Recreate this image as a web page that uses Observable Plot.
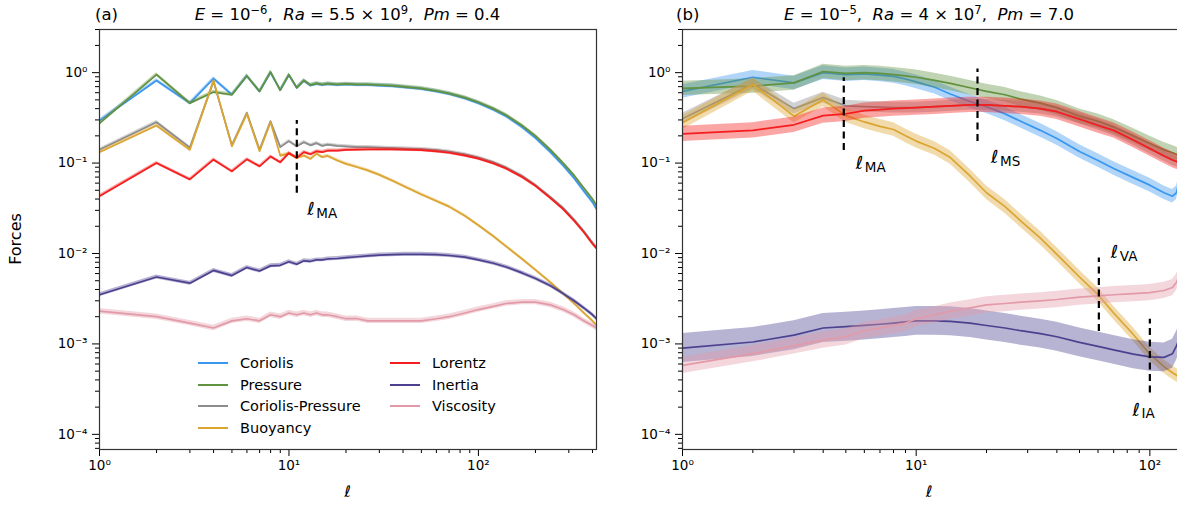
<!DOCTYPE html>
<html><head><meta charset="utf-8">
<script src="https://cdn.jsdelivr.net/npm/d3@7"></script>
<script src="https://cdn.jsdelivr.net/npm/@observablehq/plot@0.6"></script>
<style>
body{margin:0;background:#fff;font-family:"DejaVu Sans",sans-serif;}
#wrap{position:relative;width:1177px;height:514px;overflow:hidden;background:#fff}
.abs{position:absolute;white-space:nowrap;color:#000;line-height:1}
#pa{width:640px;height:514px}
#pb{width:560px;height:514px}
#pa svg,#pb svg{max-width:none !important}
.ttl{font-size:16.5px}
.ttl sup{font-size:0.7em;vertical-align:0;position:relative;top:-0.55em}
.leg{font-size:14.5px;line-height:18px;height:18px}
.leg span.sw{display:inline-block;width:30px;height:0;border-top:2px solid;vertical-align:middle;margin-right:12px;position:relative;top:-1px}
</style></head><body>
<div id="wrap">
 <div id="pa" class="abs" style="left:0;top:0"></div>
 <div id="pb" class="abs" style="left:640px;top:0"></div>
 <div class="abs ttl" style="left:95px;top:7px">(a)</div>
 <div class="abs ttl" style="left:347.5px;top:7px;transform:translateX(-50%)"><i>E</i> = 10<sup>−6</sup>,&nbsp; <i>Ra</i> = 5.5 × 10<sup>9</sup>,&nbsp; <i>Pm</i> = 0.4</div>
 <div class="abs ttl" style="left:676px;top:7px">(b)</div>
 <div class="abs ttl" style="left:929px;top:7px;transform:translateX(-50%)"><i>E</i> = 10<sup>−5</sup>,&nbsp; <i>Ra</i> = 4 × 10<sup>7</sup>,&nbsp; <i>Pm</i> = 7.0</div>
 <div class="abs" style="left:16px;top:239px;font-size:16px;transform:translate(-50%,-50%) rotate(-90deg)">Forces</div>
 <div class="abs" style="left:347.5px;top:492px;font-size:16px;transform:translate(-50%,-50%)">ℓ</div>
 <div class="abs" style="left:929px;top:492px;font-size:16px;transform:translate(-50%,-50%)">ℓ</div>
 <div id="legend"></div>
</div>
<script>
// ---------- data ----------
const series = ["Coriolis", "Pressure", "Coriolis-Pressure", "Buoyancy", "Lorentz", "Inertia", "Viscosity"];
const colors = ["#3a97ef", "#61923f", "#8c8c8c", "#dba530", "#f51d1d", "#4c418f", "#e29aa8"];

// Panel (a): E=1e-6, Ra=5.5e9, Pm=0.4
const lA = [1,2,3,4,5,6,7,8,9,10,11,12,13,14,15,16,18,20,23,26,30,35,40,50,60,70,85,100,120,140,170,200,240,280,320,360,400,420];
const coriolisA = [0.295,0.82,0.46,0.86,0.57,0.92,0.62,1.0,0.64,0.94,0.68,0.81,0.72,0.75,0.73,0.745,0.73,0.74,0.73,0.73,0.72,0.71,0.69,0.66,0.62,0.58,0.52,0.46,0.39,0.33,0.25,0.19,0.132,0.094,0.068,0.049,0.037,0.031];
const pressureA = [0.275,0.95,0.46,0.61,0.57,0.92,0.62,1.02,0.64,0.95,0.68,0.82,0.73,0.76,0.74,0.755,0.74,0.75,0.74,0.74,0.73,0.72,0.70,0.67,0.63,0.59,0.53,0.47,0.40,0.34,0.26,0.20,0.14,0.10,0.073,0.053,0.040,0.034];
const corPresA = [0.14,0.283,0.148,0.8,0.157,0.36,0.14,0.29,0.15,0.175,0.153,0.17,0.157,0.166,0.155,0.16,0.155,0.153,0.15,0.15,0.148,0.146,0.145,0.143,0.139,0.134,0.125,0.115,0.102,0.089,0.072,0.057,0.042,0.032,0.0237,0.0177,0.0132,0.0117];
const buoyancyA = [0.132,0.26,0.14,0.82,0.153,0.35,0.135,0.283,0.121,0.127,0.114,0.121,0.111,0.127,0.116,0.12,0.107,0.098,0.09,0.083,0.074,0.064,0.056,0.045,0.038,0.033,0.026,0.0205,0.0155,0.012,0.0087,0.0066,0.0048,0.0036,0.0028,0.0022,0.0018,0.0016];
const lorentzA = [0.043,0.1,0.066,0.109,0.081,0.11,0.092,0.118,0.102,0.129,0.114,0.132,0.125,0.135,0.132,0.137,0.137,0.14,0.141,0.142,0.142,0.142,0.141,0.139,0.135,0.13,0.121,0.112,0.099,0.087,0.07,0.056,0.041,0.031,0.023,0.0172,0.0128,0.0114];
const inertiaA = [0.0035,0.0055,0.0047,0.0065,0.0057,0.007,0.0064,0.0073,0.0074,0.0081,0.0076,0.0083,0.0082,0.0085,0.0085,0.0087,0.0088,0.009,0.0092,0.0094,0.0096,0.0097,0.0098,0.0098,0.0097,0.0095,0.0091,0.0085,0.0078,0.0071,0.0061,0.0053,0.0044,0.0036,0.003,0.0025,0.0021,0.0019];
const viscosityA = [0.0023,0.002,0.0017,0.0015,0.0018,0.0019,0.0018,0.0021,0.002,0.0022,0.0021,0.0022,0.0021,0.0022,0.0021,0.0021,0.002,0.0019,0.0019,0.0018,0.0018,0.0018,0.0018,0.0018,0.0019,0.002,0.0022,0.0024,0.0026,0.0028,0.0029,0.0029,0.0027,0.0024,0.0021,0.0018,0.0016,0.0015];
const spreadA = [0.02, 0.02, 0.018, 0.018, 0.018, 0.022, 0.03];   // band half-width, decades

// Panel (b): E=1e-5, Ra=4e7, Pm=7.0
const lB = [1,2,3,4,5,6,7,8,9,10,12,14,17,20,24,28,34,40,50,60,70,85,100,115,125,130,133];
const coriolisB = [0.62,0.89,0.77,1.0,0.95,0.97,0.94,0.91,0.85,0.79,0.69,0.58,0.48,0.42,0.35,0.29,0.23,0.187,0.134,0.107,0.087,0.069,0.057,0.047,0.043,0.047,0.06];
const pressureB = [0.67,0.71,0.77,1.03,0.98,1.0,0.98,0.95,0.92,0.89,0.82,0.76,0.68,0.62,0.57,0.51,0.46,0.41,0.33,0.29,0.25,0.2,0.165,0.14,0.13,0.125,0.12];
const corPresB = [0.31,0.75,0.4,0.53,0.43,0.42,0.415,0.41,0.41,0.41,0.42,0.43,0.44,0.44,0.43,0.42,0.4,0.37,0.31,0.265,0.23,0.18,0.145,0.12,0.108,0.104,0.102];
const buoyancyB = [0.28,0.74,0.33,0.5,0.335,0.285,0.255,0.235,0.2,0.175,0.145,0.115,0.072,0.047,0.033,0.023,0.0148,0.0098,0.0055,0.0035,0.0022,0.00127,0.00077,0.00056,0.00048,0.00045,0.00043];
const lorentzB = [0.21,0.23,0.265,0.335,0.35,0.38,0.39,0.4,0.405,0.41,0.42,0.43,0.44,0.44,0.43,0.42,0.4,0.37,0.305,0.26,0.23,0.18,0.145,0.12,0.108,0.104,0.102];
const inertiaB = [0.0009,0.00105,0.00125,0.0015,0.00155,0.0016,0.00165,0.0017,0.00175,0.0018,0.0018,0.00178,0.0017,0.0016,0.0015,0.0014,0.0013,0.0012,0.00104,0.00094,0.00086,0.00077,0.00072,0.00071,0.00078,0.00095,0.0011];
const viscosityB = [0.00058,0.00078,0.00095,0.0011,0.0012,0.0014,0.0015,0.0016,0.0017,0.0019,0.0021,0.0023,0.0025,0.0027,0.0028,0.0029,0.003,0.0031,0.0033,0.0034,0.0035,0.0036,0.0037,0.0039,0.0042,0.0048,0.0055];
const spreadB = [0.075, 0.08, 0.06, 0.075, 0.085, 0.16, 0.09];

// scale limits and ticks
const yDomain = [6.8e-5, 3.0];
const xDomainA = [1, 420];
const xDomainB = [1, 140];
const yMajor = [1e-4, 1e-3, 1e-2, 1e-1, 1];
const xMajor = [1, 10, 100];

// characteristic scales (dashed markers)
const annotA = [{l: 11, top: 0.295, bot: 0.0463, sub: "MA", labL: 12.5, labV: 0.0307}];
const annotB = [
  {l: 4.9, top: 0.88, bot: 0.138, sub: "MA", labL: 5.52, labV: 0.099},
  {l: 18.3, top: 1.1, bot: 0.173, sub: "MS", labL: 20.9, labV: 0.115},
  {l: 60.5, top: 0.0089, bot: 0.00137, sub: "VA", labL: 68.1, labV: 0.0103},
  {l: 100, top: 0.00188, bot: 0.000286, sub: "IA", labL: 84.3, labV: 0.000186}
];

// ---------- drawing ----------
const supMap = {"-": "⁻", "0": "⁰", "1": "¹", "2": "²", "3": "³", "4": "⁴", "5": "⁵", "6": "⁶", "7": "⁷", "8": "⁸", "9": "⁹"};
const fmt = d => "10" + String(Math.round(Math.log10(d))).split("").map(c => supMap[c]).join("");

function minorTicks(lo, hi) {
  const out = [];
  for (let e = -6; e <= 3; e++) for (let m = 2; m <= 9; m++) {
    const v = m * Math.pow(10, e);
    if (v >= lo * 0.999 && v <= hi * 1.001) out.push(v);
  }
  return out;
}

function panel(ls, vals, spreads, annots, opts) {
  const marks = [];
  series.forEach((s, i) => {
    const rows = ls.map((l, j) => ({l, v: vals[i][j], lo: vals[i][j] / Math.pow(10, spreads[i]), hi: vals[i][j] * Math.pow(10, spreads[i])}));
    marks.push(Plot.areaY(rows, {x: "l", y1: "lo", y2: "hi", fill: colors[i], fillOpacity: 0.4, clip: true}));
    marks.push(Plot.lineY(rows, {x: "l", y: "v", stroke: colors[i], strokeWidth: 1.7, clip: true}));
  });
  marks.push(Plot.ruleX(annots, {x: "l", y1: "bot", y2: "top", stroke: "#000", strokeWidth: 2.2, strokeDasharray: "7,4.5"}));
  marks.push(Plot.text(annots, {x: "labL", y: "labV", text: () => "ℓ", textAnchor: "start", fontSize: 18, fill: "#000"}));
  marks.push(Plot.text(annots, {x: "labL", y: "labV", text: "sub", textAnchor: "start", fontSize: 13.5, dx: 9, dy: 4, fill: "#000"}));
  marks.push(Plot.axisY({ticks: yMajor, tickFormat: fmt, tickSize: 7, tickPadding: 5, fontSize: 13.5, label: null}));
  marks.push(Plot.axisY({ticks: minorTicks(yDomain[0], yDomain[1]), tickFormat: () => "", tickSize: 4, label: null}));
  marks.push(Plot.axisX({ticks: xMajor, tickFormat: fmt, tickSize: 7, tickPadding: 4, fontSize: 13.5, label: null}));
  marks.push(Plot.axisX({ticks: minorTicks(opts.xDomain[0], opts.xDomain[1]), tickFormat: () => "", tickSize: 4, label: null}));
  marks.push(Plot.frame({stroke: "#333", strokeWidth: 1.2}));
  return Plot.plot({
    width: opts.width, height: 514,
    marginLeft: opts.ml, marginRight: opts.mr, marginTop: 29, marginBottom: 65,
    style: {fontFamily: "DejaVu Sans, sans-serif", fontSize: "13.5px", color: "#000", background: "transparent", overflow: "visible", maxWidth: "none"},
    x: {type: "log", domain: opts.xDomain, label: null},
    y: {type: "log", domain: yDomain, label: null},
    marks
  });
}

document.getElementById("pa").appendChild(panel(lA,
  [coriolisA, pressureA, corPresA, buoyancyA, lorentzA, inertiaA, viscosityA], spreadA, annotA,
  {width: 640, ml: 99, mr: 44, xDomain: xDomainA}));
document.getElementById("pb").appendChild(panel(lB,
  [coriolisB, pressureB, corPresB, buoyancyB, lorentzB, inertiaB, viscosityB], spreadB, annotB,
  {width: 560, ml: 42, mr: 16.5, xDomain: xDomainB}));

// legend (two columns) inside panel (a)
const legCols = [[0, 1, 2, 3], [4, 5, 6]];
const legX = [198, 390];
const legY = [363, 384.5, 406, 427.5];
const leg = document.getElementById("legend");
legCols.forEach((col, c) => col.forEach((i, r) => {
  const d = document.createElement("div");
  d.className = "abs leg";
  d.style.left = legX[c] + "px";
  d.style.top = (legY[r] - 9) + "px";
  const sw = document.createElement("span");
  sw.className = "sw";
  sw.style.borderTopColor = colors[i];
  d.appendChild(sw);
  d.appendChild(document.createTextNode(series[i]));
  leg.appendChild(d);
}));
</script>
</body></html>
